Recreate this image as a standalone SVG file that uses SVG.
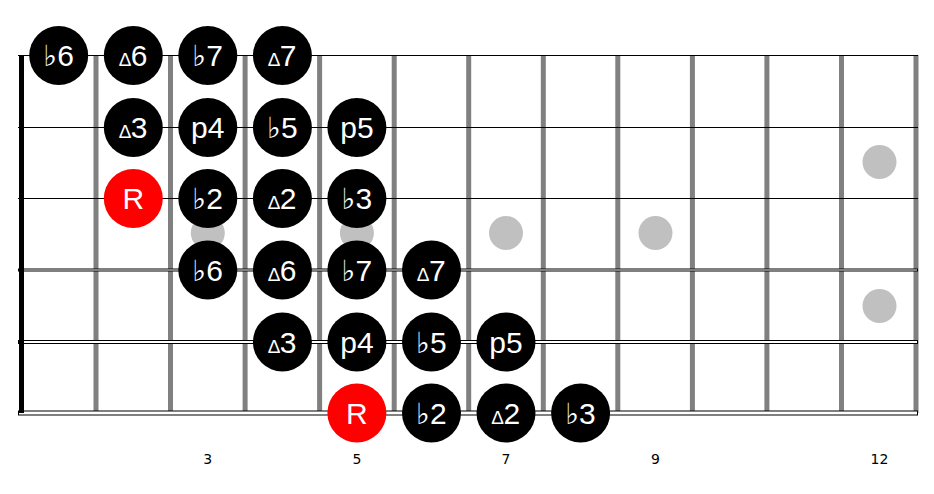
<svg xmlns="http://www.w3.org/2000/svg" width="934" height="494" viewBox="0 0 934 494">
<style>
.fret{fill:#808080}
.str{stroke:#000;stroke-width:1;fill:none}
.wstr{fill:#fff;stroke:#000;stroke-width:1}
.dot{fill:#c0c0c0}
.n circle{fill:#000}
.n.r circle{fill:#ff0000}
.n text{fill:#fff;font-family:"Liberation Sans","DejaVu Sans",sans-serif;font-size:30px;text-anchor:middle}
.n tspan.tri{font-family:"Liberation Sans","DejaVu Sans",sans-serif;font-size:19px}
.n tspan.flat{font-family:"DejaVu Sans",sans-serif;font-size:29px}
.lbl{font-family:"DejaVu Sans",sans-serif;font-size:14px;fill:#000;text-anchor:middle}
</style>
<rect width="934" height="494" fill="#fff"/>
<g id="fretboard">
<rect class="fret" x="93.5" y="55" width="5" height="358"/>
<rect class="fret" x="168" y="55" width="5" height="358"/>
<rect class="fret" x="242.6" y="55" width="5" height="358"/>
<rect class="fret" x="317.1" y="55" width="5" height="358"/>
<rect class="fret" x="391.7" y="55" width="5" height="358"/>
<rect class="fret" x="466.2" y="55" width="5" height="358"/>
<rect class="fret" x="540.8" y="55" width="5" height="358"/>
<rect class="fret" x="615.3" y="55" width="5" height="358"/>
<rect class="fret" x="689.9" y="55" width="5" height="358"/>
<rect class="fret" x="764.4" y="55" width="5" height="358"/>
<rect class="fret" x="839" y="55" width="5" height="358"/>
<rect class="fret" x="913.5" y="55" width="5" height="358"/>
<circle class="dot" cx="207.8" cy="233" r="17"/>
<circle class="dot" cx="356.9" cy="233" r="17"/>
<circle class="dot" cx="506" cy="233" r="17"/>
<circle class="dot" cx="655.5" cy="233" r="17"/>
<circle class="dot" cx="879.5" cy="162" r="17"/>
<circle class="dot" cx="879.5" cy="306" r="17"/>
<line class="str" x1="18" y1="55.5" x2="918" y2="55.5"/>
<line class="str" x1="18" y1="127.5" x2="918" y2="127.5"/>
<line class="str" x1="18" y1="198.5" x2="918" y2="198.5"/>
<rect class="wstr" x="18.5" y="269" width="899" height="2"/>
<rect class="wstr" x="18.5" y="340.5" width="899" height="3"/>
<rect class="wstr" x="18.5" y="411" width="899" height="4"/>
<rect x="19" y="55" width="5" height="358" fill="#000"/>
</g>
<g id="labels">
<text class="lbl" x="207.8" y="464">3</text>
<text class="lbl" x="356.9" y="464">5</text>
<text class="lbl" x="506" y="464">7</text>
<text class="lbl" x="655.5" y="464">9</text>
<text class="lbl" x="879.5" y="464">12</text>
</g>
<g id="s1-f1" class="n"><circle cx="58.7" cy="55.5" r="29.5"/><text x="58.7" y="66"><tspan class="flat">♭</tspan>6</text></g>
<g id="s1-f2" class="n"><circle cx="133.3" cy="55.5" r="29.5"/><text x="133.3" y="66"><tspan class="tri">∆</tspan>6</text></g>
<g id="s1-f3" class="n"><circle cx="207.8" cy="55.5" r="29.5"/><text x="207.8" y="66"><tspan class="flat">♭</tspan>7</text></g>
<g id="s1-f4" class="n"><circle cx="282.4" cy="55.5" r="29.5"/><text x="282.4" y="66"><tspan class="tri">∆</tspan>7</text></g>
<g id="s2-f2" class="n"><circle cx="133.3" cy="127.5" r="29.5"/><text x="133.3" y="138"><tspan class="tri">∆</tspan>3</text></g>
<g id="s2-f3" class="n"><circle cx="207.8" cy="127.5" r="29.5"/><text x="207.8" y="138">p4</text></g>
<g id="s2-f4" class="n"><circle cx="282.4" cy="127.5" r="29.5"/><text x="282.4" y="138"><tspan class="flat">♭</tspan>5</text></g>
<g id="s2-f5" class="n"><circle cx="356.9" cy="127.5" r="29.5"/><text x="356.9" y="138">p5</text></g>
<g id="s3-f2" class="n r"><circle cx="133.3" cy="198.5" r="29.5"/><text x="133.3" y="209">R</text></g>
<g id="s3-f3" class="n"><circle cx="207.8" cy="198.5" r="29.5"/><text x="207.8" y="209"><tspan class="flat">♭</tspan>2</text></g>
<g id="s3-f4" class="n"><circle cx="282.4" cy="198.5" r="29.5"/><text x="282.4" y="209"><tspan class="tri">∆</tspan>2</text></g>
<g id="s3-f5" class="n"><circle cx="356.9" cy="198.5" r="29.5"/><text x="356.9" y="209"><tspan class="flat">♭</tspan>3</text></g>
<g id="s4-f3" class="n"><circle cx="207.8" cy="270" r="29.5"/><text x="207.8" y="280.5"><tspan class="flat">♭</tspan>6</text></g>
<g id="s4-f4" class="n"><circle cx="282.4" cy="270" r="29.5"/><text x="282.4" y="280.5"><tspan class="tri">∆</tspan>6</text></g>
<g id="s4-f5" class="n"><circle cx="356.9" cy="270" r="29.5"/><text x="356.9" y="280.5"><tspan class="flat">♭</tspan>7</text></g>
<g id="s4-f6" class="n"><circle cx="431.5" cy="270" r="29.5"/><text x="431.5" y="280.5"><tspan class="tri">∆</tspan>7</text></g>
<g id="s5-f4" class="n"><circle cx="282.4" cy="342" r="29.5"/><text x="282.4" y="352.5"><tspan class="tri">∆</tspan>3</text></g>
<g id="s5-f5" class="n"><circle cx="356.9" cy="342" r="29.5"/><text x="356.9" y="352.5">p4</text></g>
<g id="s5-f6" class="n"><circle cx="431.5" cy="342" r="29.5"/><text x="431.5" y="352.5"><tspan class="flat">♭</tspan>5</text></g>
<g id="s5-f7" class="n"><circle cx="506" cy="342" r="29.5"/><text x="506" y="352.5">p5</text></g>
<g id="s6-f5" class="n r"><circle cx="356.9" cy="413" r="29.5"/><text x="356.9" y="423.5">R</text></g>
<g id="s6-f6" class="n"><circle cx="431.5" cy="413" r="29.5"/><text x="431.5" y="423.5"><tspan class="flat">♭</tspan>2</text></g>
<g id="s6-f7" class="n"><circle cx="506" cy="413" r="29.5"/><text x="506" y="423.5"><tspan class="tri">∆</tspan>2</text></g>
<g id="s6-f8" class="n"><circle cx="580.6" cy="413" r="29.5"/><text x="580.6" y="423.5"><tspan class="flat">♭</tspan>3</text></g>
</svg>
